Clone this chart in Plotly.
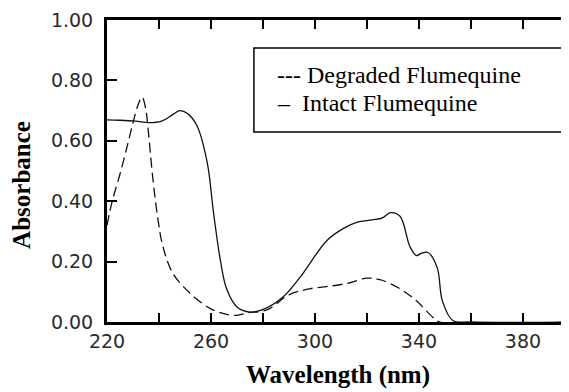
import plotly.graph_objects as go

# Intact Flumequine (solid)
intact_wl = [220, 225, 231, 236, 241, 245, 248, 251, 254.6, 258.5, 261, 263.5, 266, 270, 275, 279.6,
             287.7, 294, 304.6, 311, 316, 322, 326, 329, 332.7, 336.5, 339, 341, 343.5, 347, 349, 353, 360, 398]
intact_abs = [0.669, 0.668, 0.665, 0.660, 0.665, 0.685, 0.700, 0.690, 0.650, 0.530, 0.360, 0.210, 0.110,
              0.050, 0.033, 0.040, 0.083, 0.145, 0.270, 0.310, 0.330, 0.338, 0.345, 0.362, 0.350, 0.250,
              0.220, 0.228, 0.230, 0.180, 0.070, 0.005, 0.0, 0.0]

# Degraded Flumequine (dashed)
degraded_wl = [220, 222, 225, 228, 230, 232, 233.5, 235, 235.8, 237.7, 239.6, 241.5, 245.4, 252, 259.6,
               266, 270, 273.8, 281.5, 290, 298, 307, 313.5, 320, 325, 332.7, 339, 345.4, 348, 398]
degraded_abs = [0.320, 0.400, 0.490, 0.590, 0.660, 0.720, 0.745, 0.700, 0.640, 0.470, 0.340, 0.250, 0.160,
                0.095, 0.045, 0.025, 0.022, 0.030, 0.040, 0.090, 0.110, 0.120, 0.130, 0.145, 0.140, 0.110,
                0.070, 0.015, 0.0, 0.0]

x_tickvals = [220, 240, 260, 280, 300, 320, 340, 360, 380]
x_ticktext = ["220", "", "260", "", "300", "", "340", "", "380"]
y_tickvals = [0.0, 0.2, 0.4, 0.6, 0.8, 1.0]
y_ticktext = ["0.00", "0.20", "0.40", "0.60", "0.80", "1.00"]

legend_lines = ["--- Degraded Flumequine", "–  Intact Flumequine"]
x_title = "Wavelength (nm)"
y_title = "Absorbance"

SERIF = "Liberation Serif, Times New Roman, serif"

fig = go.Figure()
fig.add_trace(go.Scatter(x=degraded_wl, y=degraded_abs, mode="lines", name="Degraded Flumequine",
                         line=dict(color="#111", width=1.3, dash="10px,5px"), line_shape="spline"))
fig.add_trace(go.Scatter(x=intact_wl, y=intact_abs, mode="lines", name="Intact Flumequine",
                         line=dict(color="#111", width=1.3), line_shape="spline"))

# page body has an 8px margin, so the figure is made 8px smaller
fig.update_layout(
    width=561, height=384,
    margin=dict(l=99, r=0, t=12, b=70),
    paper_bgcolor="white", plot_bgcolor="white",
    showlegend=False,
    font=dict(family="DejaVu Sans", color="#222"),
)
fig.update_xaxes(
    range=[220, 397.7], tickvals=x_tickvals, ticktext=x_ticktext,
    ticks="inside", ticklen=9, tickwidth=1.5, tickcolor="black",
    showline=True, linewidth=2.5, linecolor="black", mirror="ticks",
    showgrid=False, zeroline=False,
    tickfont=dict(size=19, family="DejaVu Sans", color="#2a2a2a"),
)
fig.update_yaxes(
    range=[0, 1.0], tickvals=y_tickvals, ticktext=y_ticktext,
    ticks="inside", ticklen=10, tickwidth=2, tickcolor="black",
    showline=True, linewidth=3, linecolor="black", mirror=False,
    showgrid=False, zeroline=False, ticklabelstandoff=7,
    tickfont=dict(size=19, family="DejaVu Sans", color="#2a2a2a"),
)

# Axis titles
fig.add_annotation(xref="paper", yref="paper", x=0.5, y=-0.175, xanchor="center", yanchor="middle",
                   text="<b>" + x_title + "</b>", showarrow=False,
                   font=dict(family=SERIF, size=25, color="black"))
fig.add_annotation(xref="paper", yref="paper", x=-0.184, y=0.454, xanchor="center", yanchor="middle",
                   text="<b>" + y_title + "</b>", showarrow=False, textangle=-90,
                   font=dict(family=SERIF, size=25, color="black"))

# Legend box drawn as text inside a rectangle
fig.add_shape(type="rect", xref="paper", yref="paper", x0=0.318, x1=0.987, y0=0.629, y1=0.907,
              line=dict(color="black", width=1.5), fillcolor="white")
fig.add_annotation(xref="paper", yref="paper", x=0.363, y=0.818, xanchor="left", yanchor="middle",
                   text=legend_lines[0], showarrow=False,
                   font=dict(family=SERIF, size=24, color="black"))
fig.add_annotation(xref="paper", yref="paper", x=0.363, y=0.725, xanchor="left", yanchor="middle",
                   text=legend_lines[1], showarrow=False,
                   font=dict(family=SERIF, size=24, color="black"))

fig.write_html("out.html")
